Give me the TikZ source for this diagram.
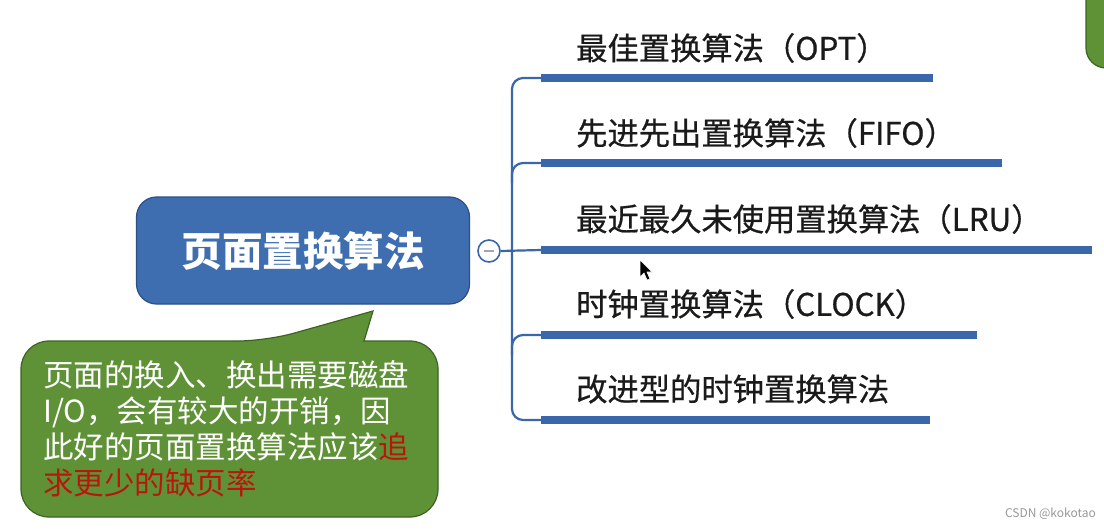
\documentclass[tikz,border=0pt]{standalone}
\usepackage{fontspec}
\newfontfamily\cjk{Noto Sans CJK SC}
\newfontfamily\cjkmed[FakeBold=0.6]{Noto Sans CJK SC}
\definecolor{mainblue}{HTML}{3E6DB0}
\definecolor{mainborder}{HTML}{2C4F86}
\definecolor{linkblue}{HTML}{3A67AA}
\definecolor{notegreen}{HTML}{5F9237}
\definecolor{noteborder}{HTML}{3B6322}
\definecolor{notered}{HTML}{B8180C}
\definecolor{labeltext}{HTML}{1A1A1A}
\tikzset{
  mainbox/.style={draw=mainborder, line width=1.2pt, fill=mainblue, rounded corners=20pt,
    minimum width=333pt, minimum height=107pt, text=white, font=\cjk\bfseries\fontsize{40.5}{48}\selectfont},
  toggle/.style={circle, draw=linkblue, line width=1.6pt, fill=white, minimum size=22pt, inner sep=0pt},
  branchlabel/.style={anchor=west, inner sep=0pt, text=labeltext, font=\cjkmed\fontsize{31.3}{36}\selectfont},
  underline/.style={draw=linkblue, line width=8.5pt},
  link/.style={draw=linkblue, line width=2.2pt},
  callout/.style={draw=noteborder, line width=1.2pt, fill=notegreen},
  notetext/.style={anchor=west, align=left, inner sep=0pt, text=white, font=\cjk\fontsize{30.5}{36}\selectfont},
}
\begin{document}
\begin{tikzpicture}[x=1pt,y=-1pt]
\useasboundingbox (0,0) rectangle (1104,530);
\clip (0,0) rectangle (1104,530);
\fill[white] (0,0) rectangle (1104,530);

% partial green shape at top right
\draw[callout, rounded corners=20pt] (1086,-30) -- (1086,68) -- (1140,68) -- (1140,-30) -- cycle;

% root
\node[mainbox] (root) at (303,250.5) {页面置换算法};
\node[toggle] (tog) at (489,251) {};
\draw[draw=gray!70, line width=1.6pt] ([xshift=-5pt]tog.center) -- ([xshift=5pt]tog.center);

% branch coordinates
\coordinate (b1s) at (541,78);  \coordinate (b1e) at (933,78);
\coordinate (b2s) at (541,163); \coordinate (b2e) at (1002,163);
\coordinate (b3s) at (541,250); \coordinate (b3e) at (1092,250);
\coordinate (b4s) at (541,335); \coordinate (b4e) at (977,335);
\coordinate (b5s) at (541,420); \coordinate (b5e) at (930,420);
\coordinate (trunk) at (512,250);

% connectors
\draw[link] (tog.east) -- (b3s);
\draw[link, rounded corners=11pt] (b1s) -- (trunk |- b1s) -- (trunk |- b5s) -- (b5s);
\draw[link, rounded corners=11pt] ([yshift=-20pt]trunk |- b2s) -- (trunk |- b2s) -- (b2s);
\draw[link, rounded corners=11pt] ([yshift=-20pt]trunk |- b4s) -- (trunk |- b4s) -- (b4s);

% underlines
\draw[underline] (b1s) -- (b1e);
\draw[underline] (b2s) -- (b2e);
\draw[underline] (b3s) -- (b3e);
\draw[underline] (b4s) -- (b4e);
\draw[underline] (b5s) -- (b5e);

% labels
\node[branchlabel] (l1) at (576,48) {最佳置换算法（OPT）};
\node[branchlabel] (l2) at (576,133) {先进先出置换算法（FIFO）};
\node[branchlabel] (l3) at (576,219) {最近最久未使用置换算法（LRU）};
\node[branchlabel] (l4) at (576,304) {时钟置换算法（CLOCK）};
\node[branchlabel] (l5) at (576,389) {改进型的时钟置换算法};

% callout
\draw[callout] (373,311) -- (364,341) -- (365,341) [rounded corners=28pt] -- (438,341) -- (438,517) -- (21,517) -- (21,341) -- (266,341) [sharp corners] -- cycle;
\node[notetext] (note) at (43,429) {页面的换入、换出需要磁盘\\I/O，会有较大的开销，因\\此好的页面置换算法应该\textcolor{notered}{追}\\\textcolor{notered}{求更少的缺页率}};

% mouse pointer
\draw[fill=black, draw=white, line width=0.6pt] (640,260) -- (640,277) -- (644,273) -- (647,280) -- (650,279) -- (647,272) -- (652,272) -- cycle;

% watermark
\node[anchor=east, inner sep=0pt, text=gray!80, font=\cjk\fontsize{12}{14}\selectfont] (wm) at (1096,514) {CSDN @kokotao};
\end{tikzpicture}
\end{document}
